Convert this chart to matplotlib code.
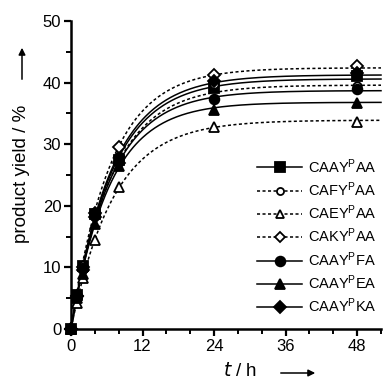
import numpy as np
import matplotlib
matplotlib.use("Agg")
import matplotlib.pyplot as plt

plt.rcParams['font.family'] = ['Liberation Sans', 'DejaVu Sans']

# --- data ---
t_points = [0, 1, 2, 4, 8, 24, 48]
labels = [r"$\mathregular{CAAY^{P}AA}$", r"$\mathregular{CAFY^{P}AA}$",
          r"$\mathregular{CAEY^{P}AA}$", r"$\mathregular{CAKY^{P}AA}$",
          r"$\mathregular{CAAY^{P}FA}$", r"$\mathregular{CAAY^{P}EA}$",
          r"$\mathregular{CAAY^{P}KA}$"]
y_caay_aa = [0, 5.6, 10.2, 18.6, 27.5, 39.2, 41.0]
y_cafy_aa = [0, 5.2, 9.8, 18.5, 28.0, 39.8, 39.5]
y_caey_aa = [0, 4.3, 8.3, 14.4, 23.1, 32.8, 33.6]
y_caky_aa = [0, 5.3, 10.0, 18.9, 29.5, 41.3, 42.7]
y_caay_fa = [0, 5.4, 9.9, 18.8, 28.0, 37.4, 38.9]
y_caay_ea = [0, 5.0, 9.0, 17.0, 26.5, 35.6, 36.7]
y_caay_ka = [0, 5.3, 9.6, 18.2, 27.0, 40.2, 41.5]
series = [y_caay_aa, y_cafy_aa, y_caey_aa, y_caky_aa, y_caay_fa, y_caay_ea, y_caay_ka]
# first-order fit parameters (plateau %, rate 1/h)
fit_plateau = [40.6, 39.6, 33.9, 42.4, 38.7, 36.8, 41.25]
fit_rate = [0.145, 0.145, 0.14, 0.15, 0.15, 0.155, 0.145]

markers = ['s', 'o', '^', 'D', 'o', '^', 'D']
filled = [True, False, False, False, True, True, True]
msizes = [7.5, 6, 7.5, 6.5, 7, 7.5, 6.5]
dotted = [False, True, True, True, False, False, False]

fig = plt.figure(figsize=(3.84, 3.81), dpi=100)
ax = fig.add_axes([71/384, 1-329/381, (381-71)/384, (329-21)/381])

tt = np.linspace(0, 52, 300)
handles = []
for ys, A, k, m, f, ms, d, lab in zip(series, fit_plateau, fit_rate, markers, filled, msizes, dotted, labels):
    ls = (0, (2, 1.6)) if d else '-'
    ax.plot(tt, A * (1 - np.exp(-k * tt)), color='black', lw=1.1, ls=ls, zorder=2, clip_on=False)
    ax.plot(t_points, ys, ls='none', marker=m, ms=ms, mfc='black' if f else 'white',
            mec='black', mew=1.3, zorder=3, clip_on=False)
    h, = ax.plot([], [], color='black', lw=1.1, ls=ls, marker=m,
                 ms=ms if f else ms * 0.85, mfc='black' if f else 'white', mec='black', mew=1.3)
    handles.append(h)

ax.set_xlim(0, 52)
ax.set_ylim(0, 50)
ax.set_xticks([0, 12, 24, 36, 48])
ax.set_xticks(np.arange(0, 53, 4), minor=True)
ax.set_yticks([0, 10, 20, 30, 40, 50])
ax.set_yticks(np.arange(0, 51, 5), minor=True)
for s in ['top', 'right']:
    ax.spines[s].set_visible(False)
for s in ['left', 'bottom']:
    ax.spines[s].set_linewidth(1.8)
ax.tick_params(which='major', length=5, width=1.6, labelsize=12, pad=2, color='black')
ax.tick_params(which='minor', length=3.5, width=1.4)

leg = fig.legend(handles=handles, labels=labels, loc='upper left',
                 bbox_to_anchor=(257/384, 1-157/381), frameon=False,
                 fontsize=10.5, handlelength=3.1, handletextpad=0.4,
                 labelspacing=0.32, borderpad=0, borderaxespad=0)

# axis labels with arrows
fig.text(22/384, 1-174/381, "product yield / %", rotation=90, ha='center', va='center', fontsize=13.5)
fig.text(240/384, 1-371/381, r"$\it{t}$ / h", ha='center', va='center', fontsize=13.5)
fig.patches.append(matplotlib.patches.FancyArrowPatch((22/384, 1-82/381), (22/384, 1-45/381),
    transform=fig.transFigure, arrowstyle='-|>', mutation_scale=10, color='black', lw=1.1))
fig.patches.append(matplotlib.patches.FancyArrowPatch((278/384, 1-373/381), (318/384, 1-373/381),
    transform=fig.transFigure, arrowstyle='-|>', mutation_scale=10, color='black', lw=1.1))

fig.savefig("out.png", dpi=100)
